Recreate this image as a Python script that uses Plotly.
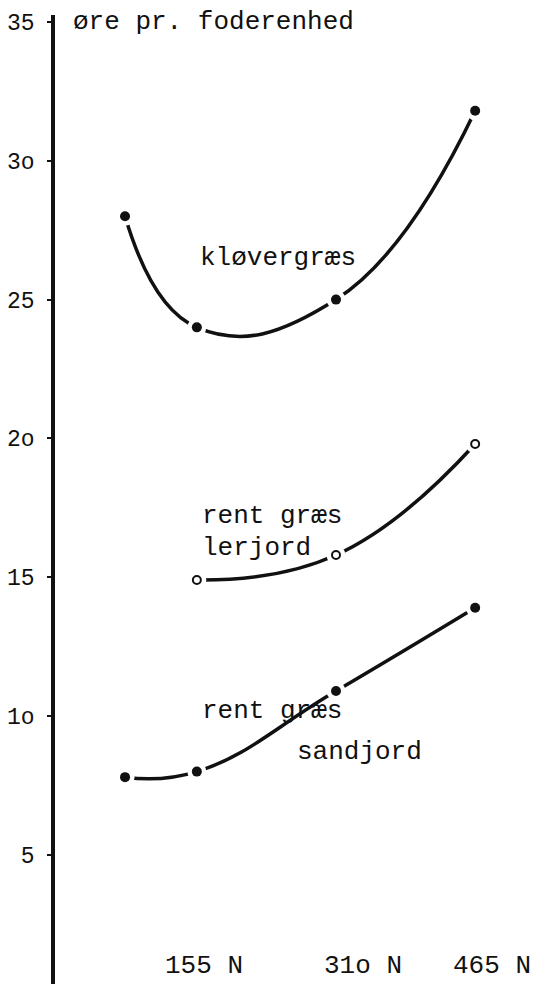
import plotly.graph_objects as go

# ---- data ----
x_pos = [75, 155, 310, 465]            # kg N per ha (first point = no extra N)
klovergraes = [28.0, 24.0, 25.0, 31.8]
lerjord_x = [155, 310, 465]
lerjord = [14.9, 15.8, 19.8]
sandjord = [7.8, 8.0, 10.9, 13.9]

y_tickvals = [5, 10, 15, 20, 25, 30, 35]
y_ticktext = ["5", "1o", "15", "2o", "25", "3o", "35"]
x_labels = ["155 N", "31o N", "465 N"]
x_label_pos = [163, 340, 484]

INK = "#111111"
MONO = "Courier New, Liberation Mono, DejaVu Sans Mono, monospace"

fig = go.Figure()


def add_series(xs, ys, open_marker):
    fig.add_trace(go.Scatter(x=xs, y=ys, mode="lines",
                             line=dict(color=INK, width=3.5, shape="spline", smoothing=1.3),
                             hoverinfo="skip", showlegend=False))
    # white halo to make the small gap between pen line and typed dot
    fig.add_trace(go.Scatter(x=xs, y=ys, mode="markers",
                             marker=dict(color="white", size=19, line=dict(width=0)),
                             hoverinfo="skip", showlegend=False))
    if open_marker:
        fig.add_trace(go.Scatter(x=xs, y=ys, mode="markers",
                                 marker=dict(symbol="circle", color="white", size=8,
                                             line=dict(color=INK, width=2)),
                                 showlegend=False))
    else:
        fig.add_trace(go.Scatter(x=xs, y=ys, mode="markers",
                                 marker=dict(symbol="circle", color=INK, size=10,
                                             line=dict(width=0)),
                                 showlegend=False))


add_series(x_pos, klovergraes, False)
add_series(lerjord_x, lerjord, True)
add_series(x_pos, sandjord, False)

annotations = []
txt = dict(family=MONO, size=26, color=INK)
# axis title
annotations.append(dict(x=15, y=35, xref="x", yref="y", text="øre pr. foderenhed",
                        showarrow=False, xanchor="left", yanchor="middle", font=txt))
# series labels
annotations.append(dict(x=156, y=26.5, xref="x", yref="y", text="kløvergræs",
                        showarrow=False, xanchor="left", yanchor="middle", font=txt))
annotations.append(dict(x=158, y=17.2, xref="x", yref="y", text="rent græs",
                        showarrow=False, xanchor="left", yanchor="middle", font=txt))
annotations.append(dict(x=158, y=16.05, xref="x", yref="y", text="lerjord",
                        showarrow=False, xanchor="left", yanchor="middle", font=txt))
annotations.append(dict(x=158, y=10.2, xref="x", yref="y", text="rent græs",
                        showarrow=False, xanchor="left", yanchor="middle", font=txt))
annotations.append(dict(x=264, y=8.7, xref="x", yref="y", text="sandjord",
                        showarrow=False, xanchor="left", yanchor="middle", font=txt))
# x labels
for lab, xp in zip(x_labels, x_label_pos):
    annotations.append(dict(x=xp, y=0, xref="x", yref="paper", text=lab,
                            showarrow=False, xanchor="center", yanchor="bottom",
                            yshift=1, font=txt))

# page body has an 8 px default margin, so the figure is 8 px smaller each way
fig.update_layout(
    width=530, height=976,
    margin=dict(l=47, r=0, t=7, b=0),
    paper_bgcolor="white", plot_bgcolor="white",
    showlegend=False,
    annotations=annotations,
    xaxis=dict(range=[-3, 535], visible=False, fixedrange=True),
    yaxis=dict(range=[0.35, 35.25], showgrid=False, zeroline=False,
               showline=True, linecolor=INK, linewidth=3.5,
               ticks="outside", ticklen=4, tickwidth=1.5, tickcolor=INK,
               tickvals=y_tickvals, ticktext=y_ticktext,
               tickfont=dict(family=MONO, size=23, color=INK),
               ticklabelstandoff=8, fixedrange=True),
)

fig.write_html("out.html")
